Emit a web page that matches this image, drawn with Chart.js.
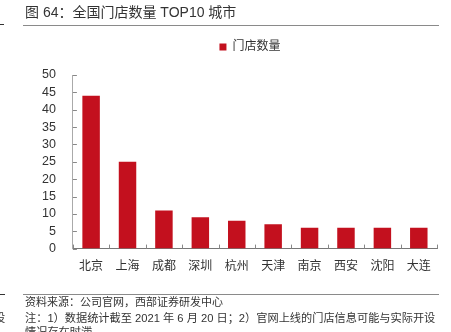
<!DOCTYPE html>
<html>
<head>
<meta charset="utf-8">
<script src="https://cdn.jsdelivr.net/npm/chart.js@4"></script>
<style>
  body { margin: 0; width: 451px; height: 332px; overflow: hidden; background: #fff;
         font-family: "Liberation Sans", "Noto Sans CJK SC", sans-serif; color: #333; }
  #wrap { position: absolute; left: 0; top: 0; width: 451px; height: 332px; }
  .txt { position: absolute; white-space: nowrap; line-height: 1; }
  .rule { position: absolute; height: 1px; background: #8a8a8a; }
</style>
</head>
<body>
<div id="wrap"><canvas id="storeChart" width="451" height="332"></canvas></div>

<div class="txt" style="left:25px; top:5px; font-size:14px;">图 64：全国门店数量 TOP10 城市</div>
<div class="rule" style="left:23px; top:25px; width:416px;"></div>
<div class="rule" style="left:0px; top:24px; width:4px; background:#333;"></div>

<div class="rule" style="left:23px; top:294px; width:416px;"></div>
<div class="rule" style="left:0px; top:294px; width:5px; background:#333;"></div>
<div class="txt" style="left:25px; top:297px; font-size:11px;">资料来源：公司官网，西部证券研发中心</div>
<div class="txt" style="left:25px; top:313px; font-size:11.2px;">注：1）数据统计截至 2021 年 6 月 20 日；2）官网上线的门店信息可能与实际开设</div>
<div class="txt" style="left:25px; top:327px; font-size:11.2px;">情况存在时滞</div>
<div class="txt" style="left:-6px; top:313px; font-size:11.2px;">设</div>

<script>
// Data
const cities = ['北京', '上海', '成都', '深圳', '杭州', '天津', '南京', '西安', '沈阳', '大连'];
const storeCounts = [44, 25, 11, 9, 8, 7, 6, 6, 6, 6];
const seriesName = '门店数量';

Chart.defaults.font.family = '"Liberation Sans", "Noto Sans CJK SC", sans-serif';
Chart.defaults.color = '#333';

// small inward tick marks, placed with the chart's scales
const innerTicks = {
  id: 'innerTicks',
  beforeInit(chart) {
    // leave a bigger gap under the legend, nudge it a bit left
    const lg = chart.legend;
    const fit = lg.fit;
    lg.fit = function () {
      fit.call(this);
      this.height += 12;
    };
    const draw = lg.draw;
    lg.draw = function () {
      this.left -= 5; this.right -= 5;
      draw.call(this);
      this.left += 5; this.right += 5;
    };
  },
  afterDraw(chart) {
    const ctx = chart.ctx;
    const x = chart.scales.x;
    const y = chart.scales.y;
    const area = chart.chartArea;
    ctx.save();
    ctx.strokeStyle = '#888';
    ctx.lineWidth = 1;
    ctx.beginPath();
    y.ticks.forEach(t => {
      const py = Math.round(y.getPixelForValue(t.value)) + 0.5;
      ctx.moveTo(area.left, py);
      ctx.lineTo(area.left + 4, py);
    });
    const half = (x.getPixelForValue(1) - x.getPixelForValue(0)) / 2;
    for (let i = 0; i <= cities.length; i++) {
      const px = Math.round(x.getPixelForValue(i) - half) + 0.5;
      ctx.moveTo(px, area.bottom);
      ctx.lineTo(px, area.bottom - 4);
    }
    ctx.stroke();
    ctx.restore();
  }
};

const ctx = document.getElementById('storeChart').getContext('2d');
new Chart(ctx, {
  type: 'bar',
  data: {
    labels: cities,
    datasets: [{
      label: seriesName,
      data: storeCounts,
      backgroundColor: '#C3101E',
      barPercentage: 0.48,
      categoryPercentage: 1
    }]
  },
  options: {
    responsive: false,
    animation: false,
    layout: { padding: { left: 33, right: 14, top: 31, bottom: 55 } },
    plugins: {
      legend: {
        fullSize: false,
        labels: { boxWidth: 7, boxHeight: 7, padding: 10, font: { size: 12 }, color: '#333' }
      },
      tooltip: { enabled: false }
    },
    scales: {
      x: {
        grid: { display: false },
        border: { display: true, color: '#777' },
        ticks: { font: { size: 12 }, color: '#333', padding: 3 }
      },
      y: {
        min: 0,
        max: 50,
        grid: { display: false },
        border: { display: true, color: '#aaa' },
        ticks: { stepSize: 5, autoSkip: false, font: { size: 12.5 }, color: '#333', padding: 9 }
      }
    }
  },
  plugins: [innerTicks]
});
</script>
</body>
</html>
